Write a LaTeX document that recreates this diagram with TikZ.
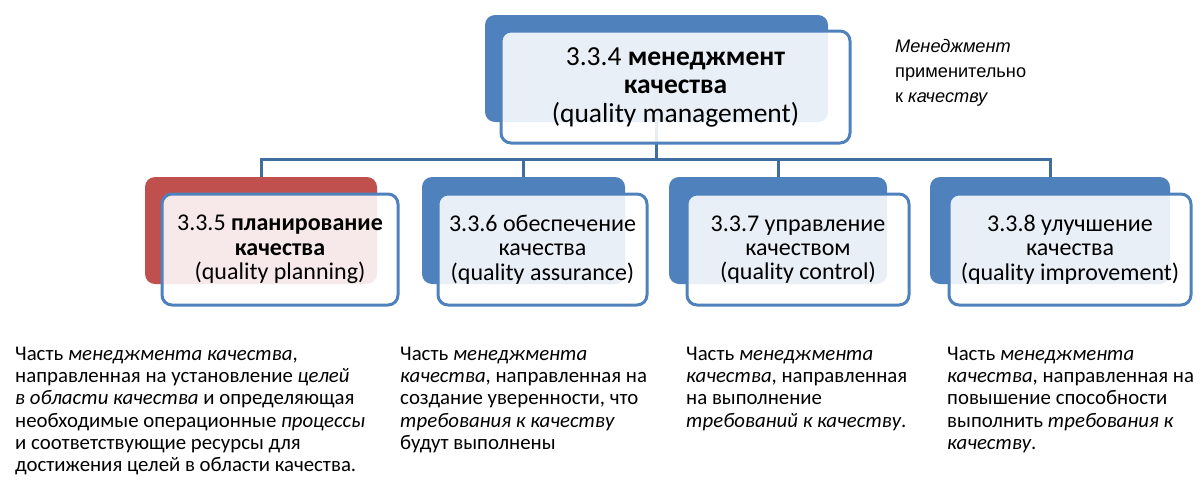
\documentclass[tikz,border=0pt]{standalone}
\usepackage{fontspec}
\setmainfont{Carlito}
\newfontfamily\notefont{Liberation Sans}
\usetikzlibrary{backgrounds}

\definecolor{qblue}{RGB}{79,129,189}
\definecolor{qred}{RGB}{192,80,77}
\definecolor{qline}{RGB}{65,110,160}

\begin{document}
\begin{tikzpicture}[x=1pt, y=-1pt,
  front/.style={draw=qblue, line width=3pt, rounded corners=10pt, fill=white,
    fill opacity=0.88, text opacity=1, align=center, minimum height=111pt, inner sep=0pt},
  back/.style={fill=#1, rounded corners=10pt, minimum height=107pt, inner sep=0pt},
  link/.style={draw=qline, line width=3pt},
  headtext/.style={font=\fontsize{27.5}{28.5}\selectfont},
  subtext/.style={font=\fontsize{24}{24.3}\selectfont},
  desc/.style={anchor=north west, align=left, inner sep=0pt, font=\fontsize{20.8}{22.2}\selectfont}]
\useasboundingbox (0,0) rectangle (1204,490);

% front boxes
\node[front, headtext, minimum width=349pt, minimum height=112pt] (qm) at (675.5,87)
{3.3.4 \textbf{менеджмент}\\\textbf{качества}\\(quality management)};

\node[front, subtext, minimum width=236pt] (plan) at (280,249.5)
{3.3.5 \textbf{планирование}\\\textbf{качества}\\(quality planning)};

\node[front, subtext, minimum width=209pt] (assur) at (542.5,249.5)
{3.3.6 обеспечение\\качества\\(quality assurance)};

\node[front, subtext, minimum width=222pt] (ctrl) at (798,249.5)
{3.3.7 управление\\качеством\\(quality control)};

\node[front, subtext, minimum width=242pt] (impr) at (1070,249.5)
{3.3.8 улучшение\\качества\\(quality improvement)};

% back plates and connectors
\begin{scope}[on background layer]
\node[back=qblue, minimum width=343pt] (qmback) at (656.5,68.5) {};
\node[back=qred, minimum width=232pt] (planback) at (261,230.5) {};
\node[back=qblue, minimum width=203pt] (assurback) at (523.5,230.5) {};
\node[back=qblue, minimum width=218pt] (ctrlback) at (778,230.5) {};
\node[back=qblue, minimum width=240pt] (imprback) at (1050,230.5) {};

\coordinate (bus) at (656.5,159);
\foreach \b in {planback,assurback,ctrlback,imprback}
  \draw[link] (qmback.center) -- (qmback.center |- bus) -| (\b.north);
\end{scope}

% note
\node[anchor=north west, align=left, inner sep=0pt, font=\notefont\fontsize{18.2}{25}\selectfont] (note) at (895,39)
{\textit{Менеджмент}\\применительно\\к \textit{качеству}};

% definitions
\node[desc] (planDesc) at (15,347)
{Часть \textit{менеджмента качества},\\
направленная на установление \textit{целей}\\
\textit{в области качества} и определяющая\\
необходимые операционные \textit{процессы}\\
и соответствующие ресурсы для\\
достижения целей в области качества.};

\node[desc] (assurDesc) at (400,347)
{Часть \textit{менеджмента}\\
\textit{качества}, направленная на\\
создание уверенности, что\\
\textit{требования к качеству}\\
будут выполнены};

\node[desc] (ctrlDesc) at (686,347)
{Часть \textit{менеджмента}\\
\textit{качества}, направленная\\
на выполнение\\
\textit{требований к качеству}.};

\node[desc] (imprDesc) at (947,347)
{Часть \textit{менеджмента}\\
\textit{качества}, направленная на\\
повышение способности\\
выполнить \textit{требования к}\\
\textit{качеству}.};
\end{tikzpicture}
\end{document}
